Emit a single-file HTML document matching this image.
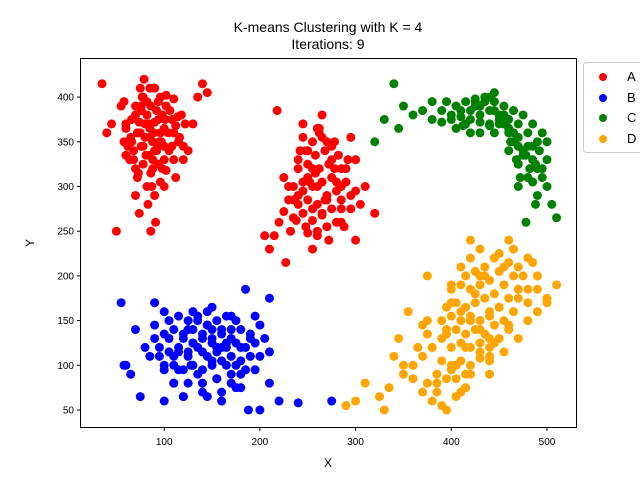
<!DOCTYPE html>
<html><head><meta charset="utf-8"><style>
body{margin:0;background:#fff}
svg{display:block;font-family:"Liberation Sans","DejaVu Sans",sans-serif}
</style></head><body>
<svg id="chart" width="640" height="480">
<text x="328" y="32" font-size="14" text-anchor="middle">K-means Clustering with K = 4</text>
<text x="328" y="49" font-size="14" text-anchor="middle">Iterations: 9</text>
<g id="pts"></g>
<rect x="80.5" y="58.5" width="496" height="369" fill="none" stroke="#000" stroke-width="1"/>
<g id="axes"></g>
<text x="328" y="467" font-size="12" text-anchor="middle">X</text>
<text x="34" y="243" font-size="12" text-anchor="middle" transform="rotate(-90 34 243)">Y</text>
<g>
<rect x="583.5" y="62.5" width="62" height="90" rx="3" fill="#fff" stroke="#ccc"/>
<circle cx="603" cy="77" r="4" fill="red"/>
<text x="627" y="81" font-size="13">A</text>
<circle cx="603" cy="98" r="4" fill="blue"/>
<text x="627" y="102" font-size="13">B</text>
<circle cx="603" cy="118" r="4" fill="green"/>
<text x="627" y="122" font-size="13">C</text>
<circle cx="603" cy="139" r="4" fill="orange"/>
<text x="627" y="143" font-size="13">D</text>
</g>
</svg>
<script>
const xTicks=[100,200,300,400,500];
const yTicks=[50,100,150,200,250,300,350,400];
const aX=[85,80,90,75,95,70,100,88,82,78,92,65,105,110,60,72,98,85,87,76,94,68,102,115,120,55,50,45,40,130,140,125,35,62,58,108,112,83,79,91,86,74,96,100,70,88,84,93,66,77,101,89,81,97,73,118,135,145,60,90,
260,250,270,240,280,255,265,245,275,235,285,230,290,225,295,260,250,270,262,248,272,240,280,255,220,300,305,310,215,210,245,265,275,255,235,285,258,268,252,242,278,288,232,262,300,320,205,227,218,295,
70,78,86,94,102,110,68,76,84,92,100,108,116,72,80,88,96,104,112,66,74,82,90,98,106,114,70,78,86,94,102,110,90,75,60,58,120,122,64,96,82,90,85,100,76,
245,255,265,275,285,240,250,260,270,280,290,245,255,265,275,285,240,250,262,272,282,248,258,268,278,255,265,235,230,295,300,238,260,270,250,285,225,292,245,260];
const aY=[355,370,340,360,350,380,365,330,395,345,385,355,340,360,370,310,320,410,300,390,375,330,390,350,330,390,250,370,360,370,415,340,415,345,395,375,310,280,420,260,250,270,400,300,290,320,370,345,350,400,375,360,335,350,315,380,400,405,335,410,
300,310,290,280,305,320,270,295,330,285,275,300,320,310,290,250,340,350,360,255,240,330,260,230,260,330,280,300,245,230,370,380,345,275,265,300,315,285,305,340,320,255,250,365,240,270,245,215,385,355,
320,325,315,325,318,330,340,345,335,340,345,345,355,360,355,350,360,360,368,375,372,380,372,380,385,378,390,400,390,395,402,398,410,410,365,350,345,370,330,305,300,290,365,330,385,
270,262,268,275,285,290,285,280,285,295,305,305,300,305,310,320,320,325,320,325,335,340,335,340,350,350,355,300,285,275,295,262,245,255,248,260,272,330,355,365];
const bX=[140,130,150,120,160,110,170,100,180,90,135,145,125,155,115,165,105,175,95,185,80,190,70,200,60,140,130,150,120,160,110,170,100,180,150,140,125,155,65,210,220,135,115,165,90,185,75,200,145,128,170,105,160,240,275,55,58,195,188,210,
100,110,120,130,140,150,160,170,180,190,105,115,125,135,145,155,165,175,185,195,100,110,120,130,140,150,160,170,180,190,115,125,135,145,155,165,175,95,85,90,205,200,110,125,140,155,170,120,145,160,180,195,100,130,150,175,210];
const bY=[115,125,105,130,120,110,140,100,120,130,90,145,140,85,95,100,150,75,110,95,120,130,140,110,100,70,160,165,65,60,80,155,60,75,130,135,110,120,90,80,60,150,115,125,170,185,65,50,160,100,90,130,135,58,60,170,100,155,50,175,
95,100,95,100,95,100,105,110,105,110,115,120,115,120,110,115,120,125,120,125,135,140,135,140,130,125,140,130,140,135,155,150,155,145,150,155,150,120,110,145,130,145,80,80,80,85,80,65,65,70,90,95,160,125,140,100,115];
const cX=[420,430,440,410,450,460,470,480,400,390,435,445,425,455,465,475,485,490,495,500,380,370,350,340,460,470,480,490,415,405,445,455,465,475,485,395,505,510,500,460,470,478,488,440,430,425,360,330,345,320,
400,410,420,430,440,450,460,470,480,490,405,415,425,435,445,455,465,475,485,495,430,440,450,460,470,478,488,482,492,468,462,500,472,485,495,412,420,390,445,380];
const cY=[375,380,370,385,375,365,355,345,380,385,395,360,390,370,350,340,330,320,310,300,375,385,390,415,340,325,310,290,370,365,385,380,360,335,345,395,280,265,330,365,300,260,280,400,360,395,380,375,365,350,
375,378,385,390,385,380,375,370,360,350,390,395,398,400,395,390,385,380,370,360,372,368,370,360,345,335,325,320,340,330,350,350,310,305,320,368,360,372,405,395];
const dX=[420,410,430,400,440,390,450,380,460,370,470,360,480,350,490,415,425,405,435,395,445,385,455,375,465,420,410,430,400,440,345,335,325,310,300,290,500,510,380,390,370,360,395,405,415,450,460,470,480,420,430,440,400,355,330,375,
400,410,420,430,440,450,460,395,405,415,425,435,445,455,465,390,400,410,420,430,440,450,460,470,395,405,415,425,435,445,455,465,400,410,420,430,440,450,460,415,425,435,445,420,430,390,400,410,420,430,440,380,385,395,405,415,375,370,480,490,475,485,480,490,500,470,455,365,375,385,410,360,350,340,440];
const dY=[150,160,140,170,155,130,165,120,145,110,175,100,185,90,200,120,180,100,200,140,125,80,210,150,230,90,210,115,95,110,130,75,65,80,60,55,170,190,60,55,70,100,50,65,75,225,240,210,220,240,200,130,190,160,50,200,
120,125,120,125,120,130,140,135,140,135,140,135,145,150,160,150,155,150,155,150,160,165,175,185,165,170,165,170,175,180,190,200,185,190,185,190,195,205,215,200,205,210,220,220,230,105,100,105,100,108,105,120,90,85,85,90,135,145,170,185,200,215,150,160,175,130,115,120,80,70,70,85,100,110,90];
const NS='http://www.w3.org/2000/svg';
const sx=v=>68.5+v*0.957;
const sy=v=>454.7-v*0.894;
const pts=document.getElementById('pts');
[[aX,aY,'red','a'],[bX,bY,'blue','b'],[cX,cY,'green','c'],[dX,dY,'orange','d']].forEach(([xs,ys,col,k])=>{
  xs.forEach((x,i)=>{
    const c=document.createElementNS(NS,'circle');
    c.setAttribute('cx',sx(x));c.setAttribute('cy',sy(ys[i]));c.setAttribute('r',4.5);c.setAttribute('fill',col);
    
    
    pts.appendChild(c);
  });
});
const ax=document.getElementById('axes');
xTicks.forEach(t=>{
  const x=sx(t);
  const l=document.createElementNS(NS,'line');
  l.setAttribute('x1',x);l.setAttribute('x2',x);l.setAttribute('y1',427.5);l.setAttribute('y2',431);l.setAttribute('stroke','#000');
  
  
  ax.appendChild(l);
  const tx=document.createElementNS(NS,'text');
  tx.setAttribute('x',x);tx.setAttribute('y',445);tx.setAttribute('font-size','10');tx.setAttribute('text-anchor','middle');
  tx.textContent=t;
  
  
  ax.appendChild(tx);
});
yTicks.forEach(t=>{
  const y=sy(t);
  const l=document.createElementNS(NS,'line');
  l.setAttribute('x1',77);l.setAttribute('x2',80.5);l.setAttribute('y1',y);l.setAttribute('y2',y);l.setAttribute('stroke','#000');
  
  
  ax.appendChild(l);
  const tx=document.createElementNS(NS,'text');
  tx.setAttribute('x',74);tx.setAttribute('y',y+3.5);tx.setAttribute('font-size','10');tx.setAttribute('text-anchor','end');
  tx.textContent=t;
  
  
  ax.appendChild(tx);
});
</script>
</body></html>
